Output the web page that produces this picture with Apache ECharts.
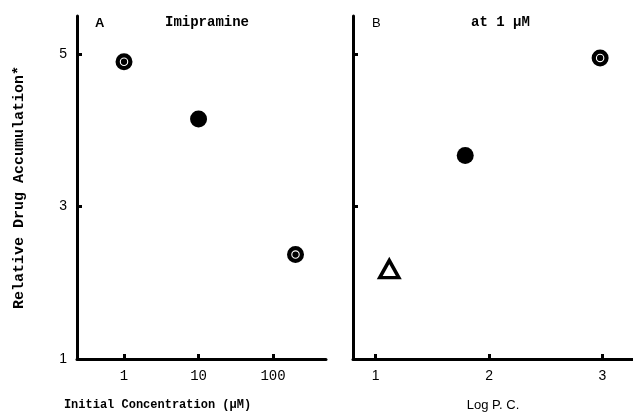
<!DOCTYPE html>
<html>
<head>
<meta charset="utf-8">
<script src="https://cdn.jsdelivr.net/npm/echarts@6/dist/echarts.min.js"></script>
<style>
  html, body { margin: 0; padding: 0; background: #fff; }
  #chart { width: 633px; height: 417px; }
</style>
</head>
<body>
<div id="chart"></div>
<script>
// panel A: imipramine, initial concentration (uM) vs relative accumulation
const concA = [1, 10, 200]
const accumA = [4.9, 4.15, 2.37]
const markerA = ['ring', 'dot', 'ring']
// panel B: log P.C. at 1 uM
const logPC = [1.12, 1.79, 2.98]
const accumB = [2.18, 3.67, 4.95]
const markerB = ['triangle', 'dot', 'ring']

const ticksA = [1, 10, 100]
const ticksB = [1, 2, 3]
const ticksY = [1, 3, 5]

// black disc with a thin white ring inside
const RING = 'path://M0,-10 A10,10 0 1,1 0,10 A10,10 0 1,1 0,-10 Z ' +
  'M0,-5 A5,5 0 1,0 0,5 A5,5 0 1,0 0,-5 Z ' +
  'M0,-3.7 A3.7,3.7 0 1,1 0,3.7 A3.7,3.7 0 1,1 0,-3.7 Z'

const mono = 'Liberation Mono'

function point(x, y, kind) {
  if (kind === 'triangle') {
    return {
      value: [x, y],
      symbol: 'triangle',
      symbolSize: [19, 17],
      itemStyle: { color: '#fff', borderColor: '#000', borderWidth: 3.5, opacity: 1 },
    }
  }
  return {
    value: [x, y],
    symbol: kind === 'ring' ? RING : 'circle',
    symbolSize: 17,
    itemStyle: { color: '#000', opacity: 1 },
  }
}

const axisLine = { show: true, lineStyle: { color: '#000', width: 3 } }
const tick = (vals) => ({
  show: true, inside: true, length: 5, customValues: vals,
  lineStyle: { color: '#000', width: 3 },
})

const myChart = echarts.init(document.getElementById('chart'))
myChart.setOption({
  animation: false,
  title: [
    { text: 'A', left: 90, top: 12, textStyle: { fontFamily: 'Liberation Sans', fontSize: 13, fontWeight: 'bold', color: '#000' } },
    { text: 'Imipramine', left: 160, top: 10, textStyle: { fontFamily: mono, fontSize: 14, fontWeight: 'bold', color: '#000' } },
    { text: 'B', left: 367, top: 12, textStyle: { fontFamily: 'Liberation Sans', fontSize: 13, fontWeight: 'normal', color: '#000' } },
    { text: 'at 1 μM', left: 466, top: 10, textStyle: { fontFamily: mono, fontSize: 14, fontWeight: 'bold', color: '#000' } },
  ],
  grid: [
    { left: 77, top: 16, width: 249, height: 343 },
    { left: 353, top: 16, right: 0, height: 343 },
  ],
  xAxis: [
    {
      gridIndex: 0, type: 'log', min: 0.234, max: 513,
      axisLine, axisTick: tick(ticksA), splitLine: { show: false }, minorTick: { show: false },
      axisLabel: { customValues: ticksA, margin: 10, color: '#000', fontFamily: mono, fontSize: 14 },
      name: 'Initial Concentration (μM)', nameLocation: 'middle', nameGap: 40,
      nameTextStyle: { fontFamily: mono, fontSize: 12, fontWeight: 'bold', color: '#000', padding: [0, 88, 0, 0] },
    },
    {
      gridIndex: 1, type: 'value', min: 0.8, max: 3.27,
      axisLine, axisTick: tick(ticksB), splitLine: { show: false },
      axisLabel: { customValues: ticksB, margin: 10, color: '#000', fontFamily: 'Liberation Sans', fontSize: 14 },
      name: 'Log P. C.', nameLocation: 'middle', nameGap: 40,
      nameTextStyle: { fontFamily: 'Liberation Sans', fontSize: 13, color: '#000' },
    },
  ],
  yAxis: [
    {
      gridIndex: 0, type: 'value', min: 1, max: 5.5,
      axisLine, axisTick: tick(ticksY), splitLine: { show: false },
      axisLabel: { customValues: ticksY, margin: 10, color: '#000', fontFamily: 'Liberation Sans', fontSize: 14 },
      name: 'Relative Drug Accumulation*', nameLocation: 'middle', nameGap: 50, nameRotate: 90,
      nameTextStyle: { fontFamily: mono, fontSize: 15, fontWeight: 'bold', color: '#000' },
    },
    {
      gridIndex: 1, type: 'value', min: 1, max: 5.5,
      axisLine, axisTick: tick([3, 5]), splitLine: { show: false },
      axisLabel: { show: false },
    },
  ],
  series: [
    {
      type: 'scatter', xAxisIndex: 0, yAxisIndex: 0,
      data: concA.map((c, i) => point(c, accumA[i], markerA[i])),
    },
    {
      type: 'scatter', xAxisIndex: 1, yAxisIndex: 1,
      data: logPC.map((c, i) => point(c, accumB[i], markerB[i])),
    },
  ],
})
</script>
</body>
</html>
